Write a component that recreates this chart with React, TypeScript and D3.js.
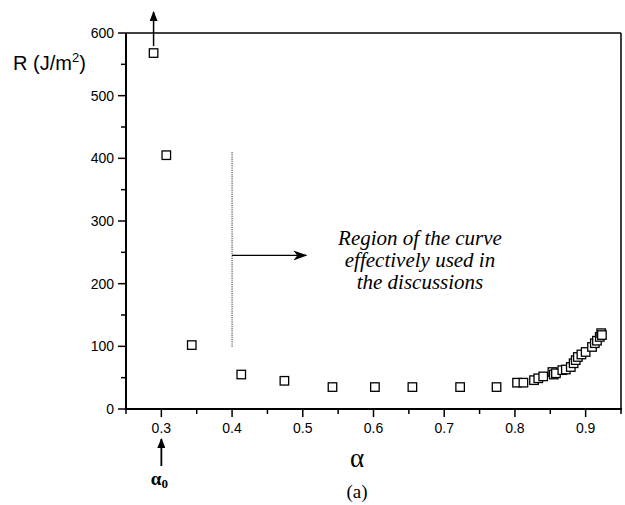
import React from "react";
import * as d3 from "d3";

// Crack resistance R versus relative crack length alpha
const alphaValues = [
  0.289, 0.307, 0.343, 0.413, 0.474, 0.542, 0.602, 0.655, 0.7225, 0.774,
  0.803, 0.812, 0.827, 0.833, 0.840, 0.853, 0.855, 0.858, 0.867, 0.872,
  0.879, 0.883, 0.886, 0.889, 0.894, 0.900, 0.909, 0.913, 0.916, 0.920,
  0.922, 0.923,
];
const rValues = [
  568, 405, 102, 55, 45, 35, 35, 35, 35, 35,
  42, 42, 46, 49, 52, 59, 55, 57, 62, 63,
  67, 73, 78, 83, 87, 91, 99, 105, 109, 115,
  121, 118,
];

const xMajorTicks = [0.3, 0.4, 0.5, 0.6, 0.7, 0.8, 0.9];
const xMinorTicks = [0.25, 0.35, 0.45, 0.55, 0.65, 0.75, 0.85, 0.95];
const yMajorTicks = [0, 100, 200, 300, 400, 500, 600];
const yMinorTicks = [50, 150, 250, 350, 450, 550];

const annotationLines = ["Region of the curve", "effectively used in", "the discussions"];

const W = 625;
const H = 505;

export default function App() {
  const x = d3.scaleLinear().domain([0.25, 0.95]).range([126, 621]);
  const y = d3.scaleLinear().domain([0, 600]).range([409, 33]);
  const [x0, x1] = x.range();
  const [yb, yt] = y.range();

  const sans = "'Liberation Sans', Arial, sans-serif";
  const serif = "'Liberation Serif', 'Times New Roman', serif";

  const sq = 8.5;
  const regionAlpha = 0.4;
  const arrowEnd = 0.505;
  const arrowR = 245;

  return (
    <svg
      width={W}
      height={H}
      viewBox={`0 0 ${W} ${H}`}
      style={{ position: "absolute", left: 0, top: 0, background: "#fff" }}
    >
      <defs>
        <marker
          id="barb"
          viewBox="0 0 14 10"
          refX="13"
          refY="5"
          markerWidth="14"
          markerHeight="10"
          markerUnits="userSpaceOnUse"
          orient="auto"
        >
          <path d="M0,0 L14,5 L0,10 L4,5 Z" fill="#000" />
        </marker>
        <marker
          id="tri"
          viewBox="0 0 10 8"
          refX="9"
          refY="4"
          markerWidth="10"
          markerHeight="8"
          markerUnits="userSpaceOnUse"
          orient="auto"
        >
          <path d="M0,0 L10,4 L0,8 Z" fill="#000" />
        </marker>
      </defs>

      {/* frame */}
      <line x1={x0} y1={yt} x2={x1} y2={yt} stroke="#000" strokeWidth={1.5} />
      <line x1={x1} y1={yt} x2={x1} y2={yb + 1} stroke="#000" strokeWidth={1.5} />
      <line x1={x0} y1={yt} x2={x0} y2={yb} stroke="#000" strokeWidth={2} />
      <line x1={x0 - 1} y1={yb} x2={x1 + 1} y2={yb} stroke="#000" strokeWidth={2} />

      {/* x ticks */}
      {xMajorTicks.map((t) => (
        <g key={"xm" + t}>
          <line x1={x(t)} x2={x(t)} y1={yb} y2={yb + 8} stroke="#000" strokeWidth={1.5} />
          <text
            x={x(t)}
            y={yb + 24}
            textAnchor="middle"
            fontFamily={sans}
            fontSize={14}
            fill="#000"
          >
            {t.toFixed(1)}
          </text>
        </g>
      ))}
      {xMinorTicks.map((t) => (
        <line key={"xn" + t} x1={x(t)} x2={x(t)} y1={yb} y2={yb + 5} stroke="#000" strokeWidth={1.5} />
      ))}

      {/* y ticks */}
      {yMajorTicks.map((t) => (
        <g key={"ym" + t}>
          <line x1={x0} x2={x0 - 8} y1={y(t)} y2={y(t)} stroke="#000" strokeWidth={1.5} />
          <text
            x={x0 - 12}
            y={y(t) + 5}
            textAnchor="end"
            fontFamily={sans}
            fontSize={14}
            fill="#000"
          >
            {t}
          </text>
        </g>
      ))}
      {yMinorTicks.map((t) => (
        <line key={"yn" + t} x1={x0} x2={x0 - 5} y1={y(t)} y2={y(t)} stroke="#000" strokeWidth={1.5} />
      ))}

      {/* axis titles */}
      <text x={13} y={70} fontFamily={sans} fontSize={20} fill="#000">
        R (J/m
        <tspan fontSize={13} dy={-8}>2</tspan>
        <tspan dy={8}>)</tspan>
      </text>
      <text x={357} y={467} textAnchor="middle" fontFamily={serif} fontSize={27} fill="#000">
        α
      </text>
      <text x={357} y={498} textAnchor="middle" fontFamily={serif} fontSize={19} fill="#000">
        (a)
      </text>

      {/* alpha_0 marker below the axis */}
      <line
        x1={x(0.3)}
        x2={x(0.3)}
        y1={466}
        y2={439}
        stroke="#000"
        strokeWidth={1.8}
        markerEnd="url(#tri)"
      />
      <text x={x(0.3) - 2} y={485} textAnchor="middle" fontFamily={serif} fontSize={19} fontWeight="bold" fill="#000">
        α<tspan fontSize={13} dy={3}>0</tspan>
      </text>

      {/* off-scale indicator above the first point */}
      <line
        x1={x(alphaValues[0])}
        x2={x(alphaValues[0])}
        y1={y(rValues[0]) - 7}
        y2={12}
        stroke="#000"
        strokeWidth={1.5}
        markerEnd="url(#tri)"
      />

      {/* region boundary and arrow */}
      <line
        x1={x(regionAlpha)}
        x2={x(regionAlpha)}
        y1={y(410)}
        y2={y(98)}
        stroke="#333"
        strokeWidth={1}
        strokeDasharray="1.2,1"
      />
      <line
        x1={x(regionAlpha)}
        x2={x(arrowEnd)}
        y1={y(arrowR)}
        y2={y(arrowR)}
        stroke="#000"
        strokeWidth={1.3}
        markerEnd="url(#barb)"
      />
      <text textAnchor="middle" fontFamily={serif} fontStyle="italic" fontSize={21} fill="#000">
        {annotationLines.map((l, i) => (
          <tspan key={i} x={420} y={245 + i * 22}>
            {l}
          </tspan>
        ))}
      </text>

      {/* data points */}
      {alphaValues.map((a, i) => (
        <rect
          key={i}
          x={x(a) - sq / 2}
          y={y(rValues[i]) - sq / 2}
          width={sq}
          height={sq}
          fill="#fff"
          stroke="#000"
          strokeWidth={1.3}
        />
      ))}
    </svg>
  );
}
